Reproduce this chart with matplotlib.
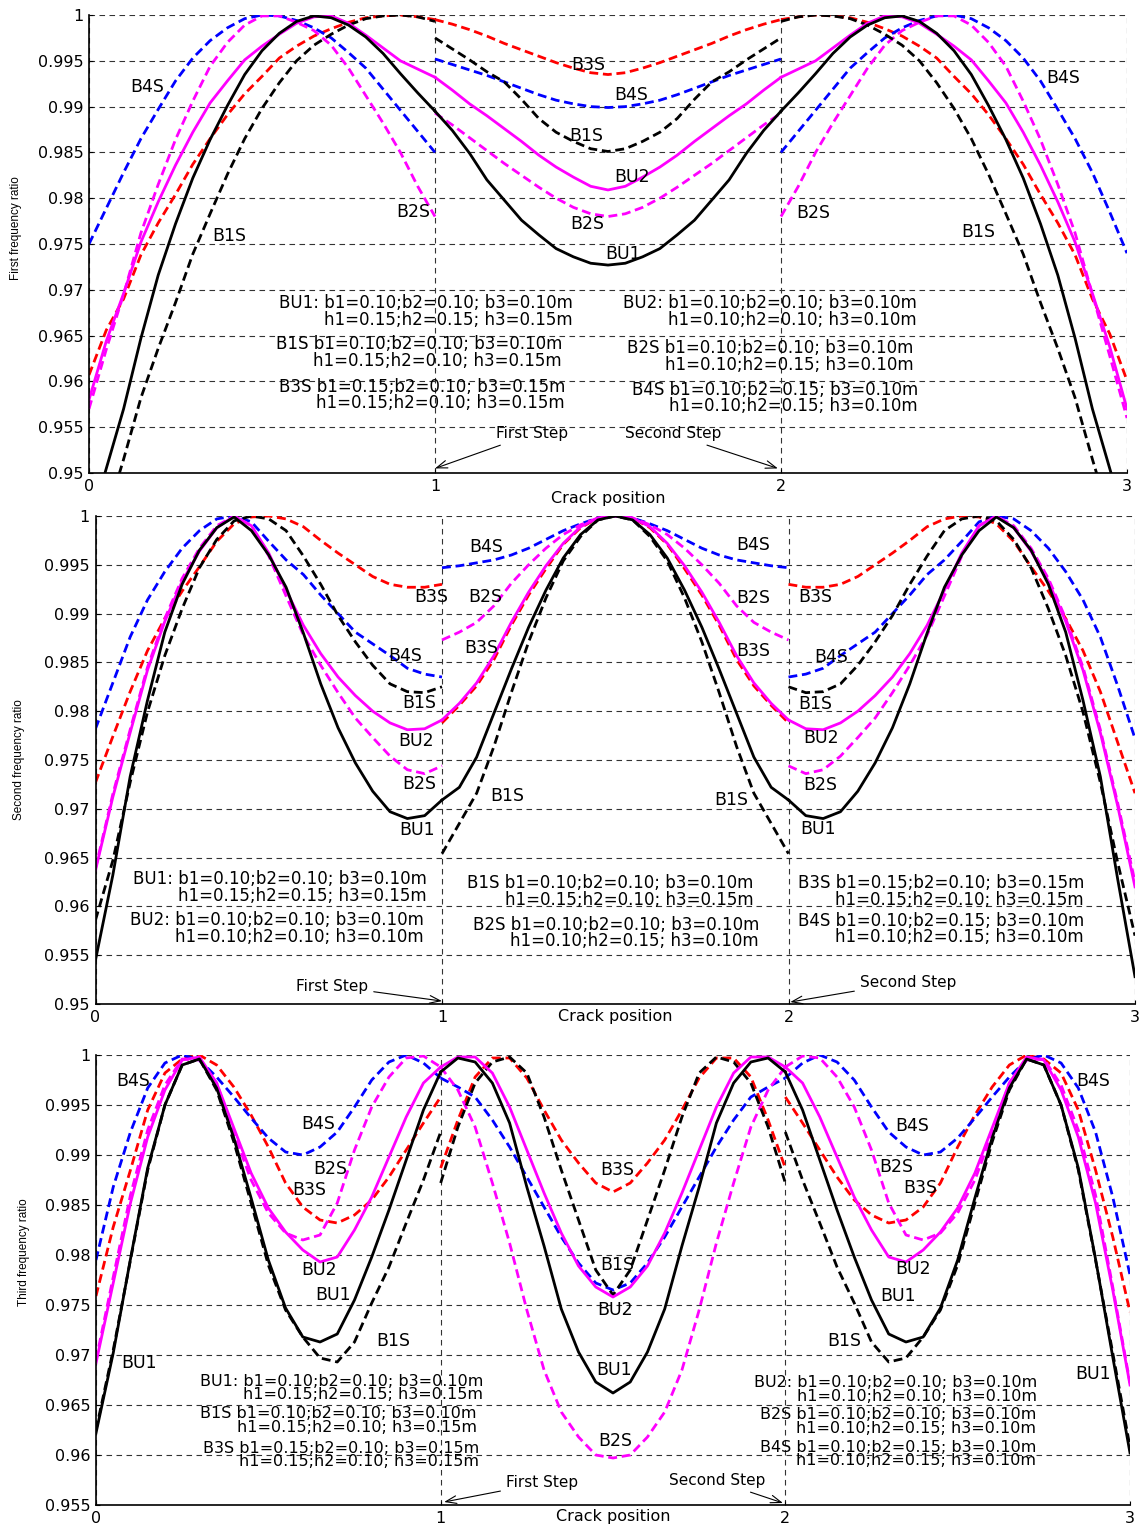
import matplotlib
matplotlib.use("Agg")
import matplotlib.pyplot as plt
import numpy as np
from matplotlib.ticker import FormatStrFormatter

plt.rcParams['font.family'] = ['DejaVu Sans']

# crack position inside one beam step (0..1); step k is shifted by k
x_step = np.linspace(0, 1, 21)

# ---- first frequency ratio (three steps each) ----
top_bu1 = [[0.944, 0.9505, 0.957, 0.9647, 0.9716, 0.9772, 0.9822, 0.9864, 0.9901, 0.9935, 0.9961,
            0.998, 0.9993, 0.9999, 0.9997, 0.9989, 0.9976, 0.9958, 0.9936, 0.9915, 0.9895],
           [0.9895, 0.9874, 0.9849, 0.982, 0.9798, 0.9776, 0.976, 0.9745, 0.9736, 0.9729, 0.9727,
            0.9729, 0.9736, 0.9745, 0.976, 0.9776, 0.9798, 0.982, 0.9849, 0.9874, 0.9895],
           [0.9895, 0.9915, 0.9936, 0.9958, 0.9976, 0.9989, 0.9997, 0.9999, 0.9993, 0.998, 0.9961,
            0.9935, 0.9901, 0.9864, 0.9822, 0.9772, 0.9716, 0.9647, 0.957, 0.9505, 0.944]]
top_bu2 = [[0.958, 0.9644, 0.9696, 0.9752, 0.9796, 0.9836, 0.9872, 0.9904, 0.9928, 0.9951, 0.9966,
            0.9979, 0.9991, 0.9998, 0.9999, 0.9991, 0.9978, 0.9964, 0.995, 0.9941, 0.9932],
           [0.9932, 0.9918, 0.9903, 0.989, 0.9876, 0.9862, 0.9847, 0.9834, 0.9823, 0.9813, 0.9809,
            0.9813, 0.9823, 0.9834, 0.9847, 0.9862, 0.9876, 0.989, 0.9903, 0.9918, 0.9932],
           [0.9932, 0.9941, 0.995, 0.9964, 0.9978, 0.9991, 0.9999, 0.9998, 0.9991, 0.9979, 0.9966,
            0.9951, 0.9928, 0.9904, 0.9872, 0.9836, 0.9796, 0.9752, 0.9696, 0.9638, 0.957]]
top_b1s = [[0.940, 0.9452, 0.9515, 0.9582, 0.9636, 0.9686, 0.9739, 0.9783, 0.9826, 0.9865, 0.9898,
            0.9926, 0.995, 0.9967, 0.9979, 0.9989, 0.9996, 0.9999, 1.0, 0.9998, 0.9993],
           [0.9975, 0.9963, 0.9951, 0.9938, 0.9927, 0.9908, 0.9887, 0.9872, 0.9862, 0.9854, 0.9851,
            0.9854, 0.9862, 0.9872, 0.9887, 0.9908, 0.9927, 0.9938, 0.9951, 0.9963, 0.9975],
           [0.9993, 0.9998, 1.0, 0.9999, 0.9996, 0.9989, 0.9979, 0.9967, 0.995, 0.9926, 0.9898,
            0.9865, 0.9826, 0.9783, 0.9739, 0.9686, 0.9636, 0.9582, 0.9515, 0.9452, 0.940]]
top_b2s = [[0.957, 0.9635, 0.9695, 0.9762, 0.9815, 0.9864, 0.9906, 0.9944, 0.997, 0.9989, 0.9999,
            0.9999, 0.9992, 0.9983, 0.9967, 0.9942, 0.9912, 0.9882, 0.985, 0.9813, 0.978],
           [0.9893, 0.988, 0.9866, 0.9852, 0.9838, 0.9825, 0.9812, 0.980, 0.979, 0.9783, 0.978,
            0.9783, 0.979, 0.980, 0.9812, 0.9825, 0.9838, 0.9852, 0.9866, 0.988, 0.9893],
           [0.978, 0.9813, 0.985, 0.9882, 0.9912, 0.9942, 0.9967, 0.9983, 0.9992, 0.9999, 0.9999,
            0.9989, 0.997, 0.9944, 0.9906, 0.9864, 0.9815, 0.9762, 0.9695, 0.9628, 0.956]]
top_b3s = [[0.9607, 0.9656, 0.969, 0.9738, 0.9773, 0.9804, 0.9837, 0.9865, 0.9891, 0.9914, 0.9933,
            0.9953, 0.9966, 0.9977, 0.9985, 0.9992, 0.9997, 0.9999, 1.0, 0.9998, 0.9995],
           [0.9995, 0.999, 0.9984, 0.9977, 0.9969, 0.9962, 0.9955, 0.9948, 0.9942, 0.9937, 0.9935,
            0.9937, 0.9942, 0.9948, 0.9955, 0.9962, 0.9969, 0.9977, 0.9984, 0.999, 0.9995],
           [0.9995, 0.9998, 1.0, 0.9999, 0.9997, 0.9992, 0.9985, 0.9977, 0.9966, 0.9953, 0.9933,
            0.9914, 0.9891, 0.9865, 0.9837, 0.9804, 0.9773, 0.9738, 0.969, 0.9652, 0.9601]]
top_b4s = [[0.975, 0.9789, 0.9828, 0.9865, 0.9897, 0.9928, 0.9953, 0.9972, 0.9986, 0.9996, 1.0,
            0.9999, 0.9994, 0.9986, 0.9975, 0.9959, 0.9942, 0.9919, 0.9896, 0.9873, 0.985],
           [0.9952, 0.9946, 0.994, 0.9934, 0.9927, 0.992, 0.9913, 0.9907, 0.9903, 0.990, 0.9899,
            0.990, 0.9903, 0.9907, 0.9913, 0.992, 0.9927, 0.9934, 0.994, 0.9946, 0.9952],
           [0.985, 0.9873, 0.9896, 0.9919, 0.9942, 0.9959, 0.9975, 0.9986, 0.9994, 0.9999, 1.0,
            0.9996, 0.9986, 0.9972, 0.9953, 0.9928, 0.9897, 0.9865, 0.9828, 0.9785, 0.974]]

# ---- second frequency ratio ----
mid_bu1 = [[0.9545, 0.9632, 0.9733, 0.9811, 0.9881, 0.993, 0.9965, 0.9988, 0.9999, 0.9985, 0.996,
            0.9927, 0.988, 0.9828, 0.9783, 0.9747, 0.9718, 0.9697, 0.969, 0.9693, 0.9709],
           [0.9709, 0.9722, 0.9753, 0.9798, 0.9843, 0.9886, 0.9924, 0.9957, 0.9981, 0.9996, 1.0,
            0.9996, 0.9981, 0.9957, 0.9924, 0.9886, 0.9843, 0.9798, 0.9753, 0.9722, 0.9709],
           [0.9709, 0.9693, 0.969, 0.9697, 0.9718, 0.9747, 0.9783, 0.9828, 0.988, 0.9927, 0.996,
            0.9985, 0.9999, 0.9988, 0.9965, 0.993, 0.9881, 0.9811, 0.9733, 0.9628, 0.9528]]
mid_bu2 = [[0.9637, 0.9712, 0.9778, 0.9842, 0.9892, 0.9933, 0.9964, 0.9988, 1.0, 0.999, 0.9962,
            0.9924, 0.9888, 0.9859, 0.9835, 0.9816, 0.980, 0.9788, 0.9781, 0.9782, 0.9791],
           [0.9791, 0.9808, 0.9829, 0.9857, 0.9891, 0.9922, 0.9949, 0.9972, 0.9989, 0.9998, 1.0,
            0.9998, 0.9989, 0.9972, 0.9949, 0.9922, 0.9891, 0.9857, 0.9829, 0.9808, 0.9791],
           [0.9791, 0.9782, 0.9781, 0.9788, 0.980, 0.9816, 0.9835, 0.9859, 0.9888, 0.9924, 0.9962,
            0.999, 1.0, 0.9988, 0.9964, 0.9933, 0.9892, 0.9842, 0.9778, 0.9703, 0.962]]
mid_b1s = [[0.9586, 0.9647, 0.9727, 0.9799, 0.9857, 0.9905, 0.9947, 0.9976, 0.9995, 1.0, 0.9997,
            0.9985, 0.9959, 0.993, 0.9898, 0.9871, 0.9847, 0.9828, 0.982, 0.9819, 0.9825],
           [0.9654, 0.9685, 0.9716, 0.9764, 0.9819, 0.9871, 0.9916, 0.9954, 0.9979, 0.9996, 1.0,
            0.9996, 0.9979, 0.9954, 0.9916, 0.9871, 0.9819, 0.9764, 0.9716, 0.9685, 0.9654],
           [0.9825, 0.9819, 0.982, 0.9828, 0.9847, 0.9871, 0.9898, 0.993, 0.9959, 0.9985, 0.9997,
            1.0, 0.9995, 0.9976, 0.9947, 0.9905, 0.9857, 0.9799, 0.9727, 0.9645, 0.957]]
mid_b2s = [[0.9639, 0.9715, 0.9781, 0.9845, 0.9895, 0.9936, 0.9967, 0.999, 1.0, 0.999, 0.9959,
            0.9918, 0.9878, 0.9847, 0.9819, 0.9793, 0.9773, 0.9754, 0.974, 0.9736, 0.9744],
           [0.9873, 0.9881, 0.9891, 0.9908, 0.9931, 0.995, 0.9967, 0.9981, 0.9991, 0.9998, 1.0,
            0.9998, 0.9991, 0.9981, 0.9967, 0.995, 0.9931, 0.9908, 0.9891, 0.9881, 0.9873],
           [0.9744, 0.9736, 0.974, 0.9754, 0.9773, 0.9793, 0.9819, 0.9847, 0.9878, 0.9918, 0.9959,
            0.999, 1.0, 0.999, 0.9967, 0.9936, 0.9895, 0.9845, 0.9781, 0.9706, 0.9625]]
mid_b3s = [[0.9727, 0.9774, 0.982, 0.9862, 0.9895, 0.9923, 0.9948, 0.9974, 0.9992, 0.9999, 1.0,
            0.9997, 0.9989, 0.9975, 0.9962, 0.995, 0.9938, 0.993, 0.9927, 0.9927, 0.993],
           [0.9788, 0.9806, 0.9826, 0.9853, 0.9888, 0.9919, 0.9946, 0.9971, 0.9988, 0.9998, 1.0,
            0.9998, 0.9988, 0.9971, 0.9946, 0.9919, 0.9888, 0.9853, 0.9826, 0.9806, 0.9788],
           [0.993, 0.9927, 0.9927, 0.993, 0.9938, 0.995, 0.9962, 0.9975, 0.9989, 0.9997, 1.0,
            0.9999, 0.9992, 0.9974, 0.9948, 0.9923, 0.9895, 0.9862, 0.982, 0.9768, 0.9716]]
mid_b4s = [[0.9782, 0.9829, 0.9876, 0.9914, 0.9943, 0.9967, 0.9985, 0.9997, 1.0, 0.9994, 0.9974,
            0.9955, 0.994, 0.9919, 0.990, 0.9881, 0.9869, 0.9857, 0.9844, 0.9838, 0.9835],
           [0.9947, 0.9949, 0.9952, 0.9955, 0.996, 0.9967, 0.9976, 0.9985, 0.9992, 0.9998, 1.0,
            0.9998, 0.9992, 0.9985, 0.9976, 0.9967, 0.996, 0.9955, 0.9952, 0.9949, 0.9947],
           [0.9835, 0.9838, 0.9844, 0.9857, 0.9869, 0.9881, 0.990, 0.9919, 0.994, 0.9955, 0.9974,
            0.9994, 1.0, 0.9997, 0.9985, 0.9967, 0.9943, 0.9914, 0.9876, 0.9826, 0.9772]]

# ---- third frequency ratio ----
bot_bu1 = [[0.9622, 0.9702, 0.9796, 0.9887, 0.995, 0.999, 0.9996, 0.9967, 0.9917, 0.9857, 0.9795,
            0.9747, 0.9718, 0.9713, 0.9721, 0.9755, 0.9798, 0.9845, 0.9895, 0.9945, 0.9983],
           [0.9983, 0.9997, 0.9993, 0.9972, 0.9932, 0.9868, 0.9809, 0.9746, 0.9703, 0.9673, 0.9662,
            0.9673, 0.9703, 0.9746, 0.9809, 0.9868, 0.9932, 0.9972, 0.9993, 0.9997, 0.9983],
           [0.9983, 0.9945, 0.9895, 0.9845, 0.9798, 0.9755, 0.9721, 0.9713, 0.9718, 0.9747, 0.9795,
            0.9857, 0.9917, 0.9967, 0.9996, 0.999, 0.995, 0.9887, 0.9796, 0.9698, 0.9602]]
bot_bu2 = [[0.9692, 0.9772, 0.9852, 0.9918, 0.9965, 0.9995, 0.9998, 0.9972, 0.9927, 0.9882, 0.9847,
            0.9823, 0.9805, 0.9793, 0.9798, 0.9825, 0.9858, 0.9898, 0.9938, 0.9972, 0.9988],
           [0.9988, 0.9998, 0.9998, 0.9982, 0.9948, 0.9905, 0.9862, 0.9822, 0.9789, 0.9768, 0.9758,
            0.9768, 0.9789, 0.9822, 0.9862, 0.9905, 0.9948, 0.9982, 0.9998, 0.9998, 0.9988],
           [0.9988, 0.9972, 0.9938, 0.9898, 0.9858, 0.9825, 0.9798, 0.9793, 0.9805, 0.9823, 0.9847,
            0.9882, 0.9927, 0.9972, 0.9998, 0.9995, 0.9965, 0.9918, 0.9852, 0.9765, 0.967]]
bot_b1s = [[0.9625, 0.9705, 0.9795, 0.9885, 0.995, 0.999, 0.9996, 0.9965, 0.9913, 0.9852, 0.979,
            0.9745, 0.9718, 0.9697, 0.9693, 0.9713, 0.9752, 0.9788, 0.9832, 0.9875, 0.9923],
           [0.9872, 0.9928, 0.9972, 0.9993, 0.9998, 0.9982, 0.9938, 0.9885, 0.9835, 0.9785, 0.976,
            0.9785, 0.9835, 0.9885, 0.9938, 0.9982, 0.9998, 0.9993, 0.9972, 0.9928, 0.9872],
           [0.9923, 0.9875, 0.9832, 0.9788, 0.9752, 0.9713, 0.9693, 0.9697, 0.9718, 0.9745, 0.979,
            0.9852, 0.9913, 0.9965, 0.9996, 0.999, 0.995, 0.9885, 0.9795, 0.9702, 0.9608]]
bot_b2s = [[0.9695, 0.9778, 0.986, 0.9925, 0.997, 0.9996, 0.9995, 0.9972, 0.9922, 0.9875, 0.9842,
            0.9822, 0.9815, 0.982, 0.9852, 0.9905, 0.9948, 0.9978, 0.9997, 0.9999, 0.9988],
           [0.9988, 0.9965, 0.9928, 0.9872, 0.9812, 0.9745, 0.9685, 0.9643, 0.9618, 0.960, 0.9597,
            0.960, 0.9618, 0.9643, 0.9685, 0.9745, 0.9812, 0.9872, 0.9928, 0.9965, 0.9988],
           [0.9988, 0.9999, 0.9997, 0.9978, 0.9948, 0.9905, 0.9852, 0.982, 0.9815, 0.9822, 0.9842,
            0.9875, 0.9922, 0.9972, 0.9995, 0.9996, 0.997, 0.9925, 0.986, 0.9768, 0.9672]]
bot_b3s = [[0.9759, 0.9828, 0.9885, 0.9945, 0.9982, 0.9996, 1.0, 0.999, 0.9968, 0.994, 0.9908,
            0.9872, 0.9848, 0.9835, 0.9832, 0.984, 0.9855, 0.9878, 0.9905, 0.9932, 0.9958],
           [0.9887, 0.9935, 0.9978, 0.9997, 0.9997, 0.9977, 0.9945, 0.9915, 0.9892, 0.9872, 0.9863,
            0.9872, 0.9892, 0.9915, 0.9945, 0.9977, 0.9997, 0.9997, 0.9978, 0.9935, 0.9887],
           [0.9958, 0.9932, 0.9905, 0.9878, 0.9855, 0.984, 0.9832, 0.9835, 0.9848, 0.9872, 0.9908,
            0.994, 0.9968, 0.999, 1.0, 0.9996, 0.9982, 0.9945, 0.9885, 0.9818, 0.9743]]
bot_b4s = [[0.9795, 0.9868, 0.9923, 0.9967, 0.9992, 1.0, 0.9995, 0.9978, 0.9958, 0.9937, 0.9917,
            0.9903, 0.990, 0.9908, 0.9923, 0.9948, 0.9975, 0.9993, 1.0, 0.9992, 0.9977],
           [0.9977, 0.9968, 0.9958, 0.9935, 0.9908, 0.9878, 0.9848, 0.9818, 0.9792, 0.9772, 0.9765,
            0.9772, 0.9792, 0.9818, 0.9848, 0.9878, 0.9908, 0.9935, 0.9958, 0.9968, 0.9977],
           [0.9977, 0.9992, 1.0, 0.9993, 0.9975, 0.9948, 0.9923, 0.9908, 0.990, 0.9903, 0.9917,
            0.9937, 0.9958, 0.9978, 0.9995, 1.0, 0.9992, 0.9967, 0.9923, 0.9858, 0.978]]

params = {
    'BU1': "BU1: b1=0.10;b2=0.10; b3=0.10m\nh1=0.15;h2=0.15; h3=0.15m",
    'BU2': "BU2: b1=0.10;b2=0.10; b3=0.10m\nh1=0.10;h2=0.10; h3=0.10m",
    'B1S': "B1S b1=0.10;b2=0.10; b3=0.10m\nh1=0.15;h2=0.10; h3=0.15m",
    'B2S': "B2S b1=0.10;b2=0.10; b3=0.10m\nh1=0.10;h2=0.15; h3=0.10m",
    'B3S': "B3S b1=0.15;b2=0.10; b3=0.15m\nh1=0.15;h2=0.10; h3=0.15m",
    'B4S': "B4S b1=0.10;b2=0.15; b3=0.10m\nh1=0.10;h2=0.15; h3=0.10m",
}

STYLE = {
    'BU1': dict(color='black', ls='-'),
    'BU2': dict(color='#ff00ff', ls='-'),
    'B1S': dict(color='black', ls='--'),
    'B2S': dict(color='#ff00ff', ls='--'),
    'B3S': dict(color='#ff0000', ls='--'),
    'B4S': dict(color='#0000ff', ls='--'),
}

W, H = 1141, 1526
fig = plt.figure(figsize=(W / 100, H / 100), dpi=100)


def draw(ax, xs, curves):
    for name, segs in curves:
        st = STYLE[name]
        for k, seg in enumerate(segs):
            line, = ax.plot(xs + k, seg, color=st['color'], ls=st['ls'], lw=2.0)
            if st['ls'] == '--':
                line.set_dashes((3.2, 1.7))


def setup(ax, ymin, ylabel, lab_xy, xlab_off):
    ax.set_xlim(0, 3)
    ax.set_ylim(ymin, 1)
    ax.set_xticks([0, 1, 2, 3])
    ax.set_yticks(np.round(np.arange(ymin, 1.0001, 0.005), 3))
    ax.yaxis.set_major_formatter(FormatStrFormatter('%g'))
    ax.xaxis.set_major_formatter(FormatStrFormatter('%g'))
    ax.grid(True, color='0.2', linestyle=(0, (5, 4)), linewidth=0.8)
    ax.set_axisbelow(True)
    for s in ('top', 'right'):
        ax.spines[s].set_visible(False)
    for s in ('left', 'bottom'):
        ax.spines[s].set_linewidth(1.2)
    ax.tick_params(direction='in', length=3, labelsize=11.5, pad=4, top=False, right=False)
    ax.set_ylabel(ylabel, fontsize=8.5, family=['Liberation Sans', 'DejaVu Sans'])
    ax.yaxis.set_label_coords(*lab_xy)
    ax.annotate('Crack position', xy=(0.5, 0), xycoords='axes fraction',
                xytext=(0, -xlab_off), textcoords='offset pixels',
                ha='center', va='center', fontsize=11.5)


def labels(ax, items):
    for txt, x, y in items:
        ax.text(x, y, txt, ha='center', va='center', fontsize=12.5)


def blocks(ax, items, size=12, spacing=0.9):
    for key, x, y in items:
        ax.text(x, y, params[key], ha='right', va='center', fontsize=size,
                multialignment='right', linespacing=spacing)


def steps(ax, first, second):
    arrow = dict(arrowstyle='->,head_length=0.7,head_width=0.25', color='black', lw=0.8,
                 shrinkA=2, shrinkB=0)
    ax.annotate('First Step', xy=first[0], xytext=first[1], ha='center', va='center',
                fontsize=11, arrowprops=arrow)
    ax.annotate('Second Step', xy=second[0], xytext=second[1], ha='center', va='center',
                fontsize=11, arrowprops=arrow)


# ---------------- top panel ----------------
ax1 = fig.add_axes([89 / W, 1 - 473 / H, 1038 / W, 458 / H])
draw(ax1, x_step, [('B3S', top_b3s), ('B4S', top_b4s), ('B2S', top_b2s),
                   ('B1S', top_b1s), ('BU2', top_bu2), ('BU1', top_bu1)])
setup(ax1, 0.95, 'First frequency ratio', (-0.0645, 0.535), 25)
labels(ax1, [('B4S', 0.168, 0.9921), ('B1S', 0.405, 0.9759), ('B2S', 0.936, 0.9785),
             ('B3S', 1.442, 0.9945), ('B4S', 1.566, 0.9913), ('B1S', 1.436, 0.9868),
             ('BU2', 1.569, 0.9823), ('B2S', 1.439, 0.9772), ('BU1', 1.543, 0.9739),
             ('B4S', 2.815, 0.9931), ('B2S', 2.092, 0.9784), ('B1S', 2.569, 0.9763)])
blocks(ax1, [('BU1', 1.399, 0.96763), ('B1S', 1.367, 0.96316), ('B3S', 1.376, 0.95852),
             ('BU2', 2.393, 0.96763), ('B2S', 2.382, 0.96272), ('B4S', 2.396, 0.95819)])
steps(ax1, ((1.0, 0.9505), (1.28, 0.95426)), ((1.991, 0.9505), (1.688, 0.95426)))

# ---------------- middle panel ----------------
ax2 = fig.add_axes([95.5 / W, 1 - 1004 / H, 1039.5 / W, 488 / H])
draw(ax2, x_step, [('B3S', mid_b3s), ('B4S', mid_b4s), ('B2S', mid_b2s),
                   ('B1S', mid_b1s), ('BU2', mid_bu2), ('BU1', mid_bu1)])
setup(ax2, 0.95, 'Second frequency ratio', (-0.0678, 0.5), 12)
labels(ax2, [('B3S', 0.968, 0.9917), ('B4S', 0.893, 0.9857), ('B1S', 0.933, 0.9808),
             ('BU2', 0.925, 0.9769), ('B2S', 0.933, 0.9725), ('BU1', 0.928, 0.9678),
             ('B4S', 1.127, 0.9968), ('B2S', 1.124, 0.9917), ('B3S', 1.112, 0.9865),
             ('B1S', 1.187, 0.9713), ('B4S', 1.898, 0.9970), ('B2S', 1.898, 0.9916),
             ('B3S', 1.898, 0.9862), ('B1S', 1.834, 0.9709), ('B3S', 2.076, 0.9917),
             ('B4S', 2.123, 0.9856), ('B1S', 2.076, 0.9807), ('BU2', 2.094, 0.9773),
             ('B2S', 2.091, 0.9724), ('BU1', 2.085, 0.9679)])
blocks(ax2, [('BU1', 0.957, 0.96194), ('BU2', 0.948, 0.95774), ('B1S', 1.900, 0.96153),
             ('B2S', 1.915, 0.95727), ('B3S', 2.853, 0.96153), ('B4S', 2.853, 0.95768)])
steps(ax2, ((1.0, 0.9503), (0.683, 0.95184)), ((2.005, 0.9502), (2.345, 0.95225)))

# ---------------- bottom panel ----------------
ax3 = fig.add_axes([96 / W, 1 - 1505 / H, 1034 / W, 450 / H])
draw(ax3, x_step, [('B3S', bot_b3s), ('B4S', bot_b4s), ('B2S', bot_b2s),
                   ('B1S', bot_b1s), ('BU2', bot_bu2), ('BU1', bot_bu1)])
setup(ax3, 0.955, 'Third frequency ratio', (-0.0638, 0.562), 11)
labels(ax3, [('B4S', 0.107, 0.9974), ('B4S', 0.644, 0.9931), ('B2S', 0.679, 0.9886),
             ('B3S', 0.618, 0.9865), ('BU2', 0.647, 0.9785), ('BU1', 0.688, 0.976),
             ('B1S', 0.862, 0.9714), ('BU1', 0.125, 0.9692), ('B3S', 1.511, 0.9885),
             ('B1S', 1.511, 0.979), ('BU2', 1.506, 0.9745), ('BU1', 1.503, 0.9685),
             ('B2S', 1.506, 0.9614), ('B4S', 2.367, 0.9929), ('B2S', 2.321, 0.9888),
             ('B3S', 2.390, 0.9867), ('BU2', 2.370, 0.9786), ('BU1', 2.327, 0.9759),
             ('B1S', 2.170, 0.9714), ('B4S', 2.892, 0.9974), ('BU1', 2.892, 0.9681)])
blocks(ax3, [('BU1', 1.123, 0.9667), ('B1S', 1.105, 0.96345), ('B3S', 1.111, 0.960),
             ('BU2', 2.730, 0.96655), ('B2S', 2.727, 0.96335), ('B4S', 2.727, 0.9601)],
       size=11.5, spacing=0.88)
steps(ax3, ((1.01, 0.9553), (1.294, 0.9572)), ((1.993, 0.9552), (1.802, 0.9574)))

fig.savefig('out.png', dpi=100)
